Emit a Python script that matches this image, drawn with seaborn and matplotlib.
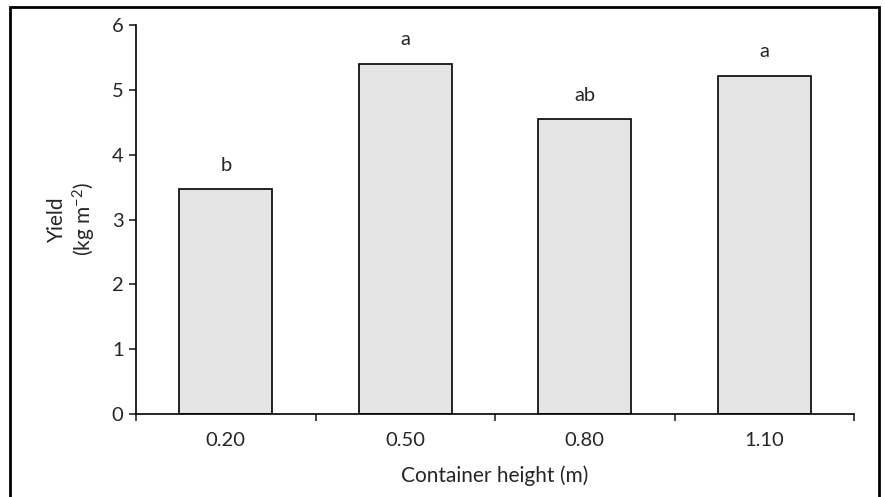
import pandas as pd
import matplotlib.pyplot as plt
import matplotlib.patches as mpatches
import seaborn as sns

# Data
heights = ["0.20", "0.50", "0.80", "1.10"]
yields = [3.47, 5.40, 4.55, 5.22]
letters = ["b", "a", "ab", "a"]

df = pd.DataFrame({"height": heights, "yield": yields})

sns.set_style("white")
plt.rcParams['font.family'] = ['Lato', 'DejaVu Sans']
plt.rcParams['mathtext.default'] = 'regular'

fig = plt.figure(figsize=(8.85, 4.97), dpi=100)
ax = fig.add_axes([0.1537, 0.167, 0.9650 - 0.1537, 0.9497 - 0.167])

sns.barplot(data=df, x="height", y="yield", ax=ax, width=0.52,
            color="#e4e4e4", edgecolor="black", linewidth=1.2, saturation=1)

# significance letters
for i, (v, t) in enumerate(zip(yields, letters)):
    ax.text(i, v + 0.37, t, ha="center", va="center", fontsize=14.5)

ax.set_xlim(-0.5, 3.5)
ax.set_ylim(0, 6)
ax.set_yticks(range(0, 7))
ax.set_xticks([-0.5, 0.5, 1.5, 2.5, 3.5], minor=True)
ax.tick_params(axis="x", which="major", length=0, labelsize=14.5, pad=13)
ax.tick_params(axis="x", which="minor", length=5, width=1.2, direction="out", bottom=True)
ax.tick_params(axis="y", length=5, width=1.2, direction="out", left=True, labelsize=14.5, pad=4)

sns.despine(ax=ax)
for s in ["left", "bottom"]:
    ax.spines[s].set_linewidth(1.2)
    ax.spines[s].set_color("black")

ax.set_xlabel("Container height (m)", fontsize=15, labelpad=12)
ax.set_ylabel("Yield\n(kg m$^{-2}$)", fontsize=15, labelpad=10)

# outer frame
frame = mpatches.Rectangle((10 / 885, -0.05), (879 - 10) / 885, 1 - 7 / 497 + 0.05,
                           transform=fig.transFigure, fill=False,
                           edgecolor="black", linewidth=2)
fig.patches.append(frame)

plt.savefig("out.png", dpi=100)
